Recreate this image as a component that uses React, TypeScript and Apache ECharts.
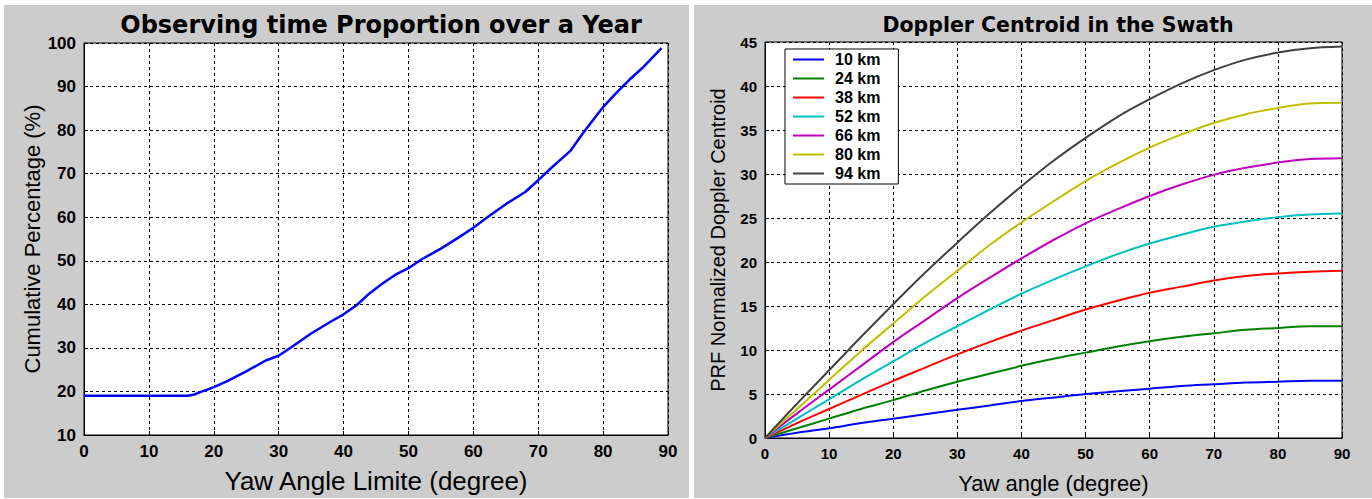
import React, { useEffect, useRef } from "react";
import * as echarts from "echarts";

// Left panel: cumulative observing-time percentage vs. yaw angle limit
const yawLimit = [0, 16, 17, 18, 19, 20, 22, 25, 28, 30, 32, 35, 38, 40, 42, 44, 46, 48, 50, 52, 55, 58, 60, 62, 65, 68, 70, 72, 75, 77, 80, 82, 84, 86, 89];
const cumulativePct = [19, 19, 19.3, 19.9, 20.4, 21, 22.3, 24.6, 27.1, 28.2, 30.2, 33.3, 36, 37.7, 39.8, 42.5, 44.8, 46.8, 48.3, 50.3, 52.8, 55.6, 57.6, 59.8, 63, 65.8, 68.5, 71.3, 75.3, 79.5, 85.3, 88.5, 91.5, 94.2, 98.8];

// Right panel: Doppler centroid (PRF normalized) vs. yaw angle, per swath width
const yawAngle = [0, 5, 10, 15, 20, 25, 30, 35, 40, 45, 50, 55, 60, 65, 70, 75, 80, 85, 90];
const swathNames = ["10 km", "24 km", "38 km", "52 km", "66 km", "80 km", "94 km"];
const swathColors = ["#0000ff", "#008000", "#ff0000", "#00bfbf", "#bf00bf", "#bfbf00", "#404040"];
const doppler10 = [0, 0.6, 1.1, 1.7, 2.2, 2.7, 3.2, 3.7, 4.2, 4.6, 5.0, 5.3, 5.6, 5.9, 6.1, 6.3, 6.4, 6.5, 6.5];
const doppler24 = [0, 1.1, 2.2, 3.3, 4.3, 5.4, 6.4, 7.3, 8.2, 9.0, 9.7, 10.4, 11.0, 11.5, 11.9, 12.3, 12.5, 12.7, 12.7];
const doppler38 = [0, 1.7, 3.3, 4.9, 6.5, 8.0, 9.5, 10.9, 12.2, 13.4, 14.6, 15.6, 16.5, 17.2, 17.9, 18.4, 18.7, 18.9, 19.0];
const doppler52 = [0, 2.2, 4.4, 6.6, 8.7, 10.8, 12.7, 14.6, 16.4, 18.0, 19.5, 20.9, 22.1, 23.1, 24.0, 24.6, 25.1, 25.4, 25.5];
const doppler66 = [0, 2.8, 5.5, 8.2, 10.9, 13.4, 15.9, 18.2, 20.4, 22.5, 24.4, 26.0, 27.5, 28.8, 29.9, 30.7, 31.3, 31.7, 31.8];
const doppler80 = [0, 3.3, 6.6, 9.9, 13.0, 16.1, 19.0, 21.9, 24.5, 26.9, 29.2, 31.2, 33.0, 34.5, 35.8, 36.8, 37.5, 38.0, 38.1];
const doppler94 = [0, 3.9, 7.7, 11.5, 15.2, 18.8, 22.2, 25.5, 28.6, 31.5, 34.1, 36.5, 38.5, 40.3, 41.8, 43.0, 43.8, 44.3, 44.5];
const dopplerSeries = [doppler10, doppler24, doppler38, doppler52, doppler66, doppler80, doppler94];

const FONT = "Arial, 'Liberation Sans', sans-serif";
const TITLE_FONT = "'DejaVu Sans', Verdana, sans-serif";

const gridLine = {
  show: true,
  lineStyle: { color: "#000", type: [3, 3], width: 1 },
};

const axisBase = (
  gridIndex: number,
  min: number,
  max: number,
  interval: number,
  labelSize: number,
  nameSize: number
) => ({
  type: "value" as const,
  gridIndex,
  min,
  max,
  interval,
  axisLine: { show: true, lineStyle: { color: "#000", width: 1 } },
  axisTick: { show: true, inside: true, length: 4, lineStyle: { color: "#000" } },
  axisLabel: {
    color: "#000",
    fontFamily: FONT,
    fontWeight: "bold" as const,
    fontSize: labelSize,
    margin: 8,
  },
  splitLine: gridLine,
  nameLocation: "middle" as const,
  nameTextStyle: { color: "#000", fontFamily: FONT, fontSize: nameSize },
});

export default function App() {
  const ref = useRef<HTMLDivElement>(null);

  useEffect(() => {
    if (!ref.current) return;
    const chart = echarts.init(ref.current, null, { renderer: "svg" });

    chart.setOption({
      animation: false,
      backgroundColor: "#ffffff",
      graphic: [
        { type: "rect", z: -100, shape: { x: 4, y: 5, width: 685, height: 493 }, style: { fill: "#cccccc" } },
        { type: "rect", z: -100, shape: { x: 694, y: 5, width: 678, height: 493 }, style: { fill: "#cccccc" } },
      ],
      title: [
        {
          text: "Observing time Proportion over a Year",
          left: 376,
          top: 8,
          textAlign: "center",
          textStyle: { color: "#000", fontFamily: TITLE_FONT, fontWeight: "bold", fontSize: 24 },
        },
        {
          text: "Doppler Centroid in the Swath",
          left: 1053,
          top: 9,
          textAlign: "center",
          textStyle: { color: "#000", fontFamily: TITLE_FONT, fontWeight: "bold", fontSize: 20.5 },
        },
      ],
      legend: {
        orient: "vertical",
        left: 785,
        top: 49,
        data: swathNames,
        icon: "rect",
        itemWidth: 31,
        itemHeight: 2,
        itemGap: 0,
        padding: [1, 18, 1, 8],
        backgroundColor: "#ffffff",
        borderColor: "#000",
        borderWidth: 1,
        borderRadius: 0,
        textStyle: {
          color: "#000",
          fontFamily: FONT,
          fontWeight: "bold",
          fontSize: 16,
          lineHeight: 19,
          padding: [0, 0, 0, 6],
        },
      },
      grid: [
        { left: 84, top: 43, width: 584, height: 405, show: true, backgroundColor: "#ffffff", borderColor: "#000", borderWidth: 1 },
        { left: 765, top: 42, width: 577, height: 405, show: true, backgroundColor: "#ffffff", borderColor: "#000", borderWidth: 1 },
      ],
      xAxis: [
        { ...axisBase(0, 0, 90, 10, 17, 26), name: "Yaw Angle Limite (degree)", nameGap: 33 },
        { ...axisBase(1, 0, 90, 10, 15, 22), name: "Yaw angle (degree)", nameGap: 34 },
      ],
      yAxis: [
        { ...axisBase(0, 10, 100, 10, 17, 22), name: "Cumulative Percentage (%)", nameGap: 41 },
        { ...axisBase(1, 0, 45, 5, 15, 20), name: "PRF Normalized Doppler Centroid", nameGap: 37 },
      ],
      series: [
        {
          type: "line",
          xAxisIndex: 0,
          yAxisIndex: 0,
          data: yawLimit.map((x, i) => [x, cumulativePct[i]]),
          showSymbol: false,
          lineStyle: { color: "#0000ff", width: 2.5 },
          itemStyle: { color: "#0000ff" },
        },
        ...swathNames.map((name, k) => ({
          type: "line",
          name,
          xAxisIndex: 1,
          yAxisIndex: 1,
          data: yawAngle.map((x, i) => [x, dopplerSeries[k][i]]),
          showSymbol: false,
          smooth: 0.3,
          lineStyle: { color: swathColors[k], width: 2 },
          itemStyle: { color: swathColors[k] },
        })),
      ],
    });

    return () => chart.dispose();
  }, []);

  return (
    <div
      ref={ref}
      style={{ position: "fixed", left: 0, top: 0, width: 1372, height: 499 }}
    />
  );
}
